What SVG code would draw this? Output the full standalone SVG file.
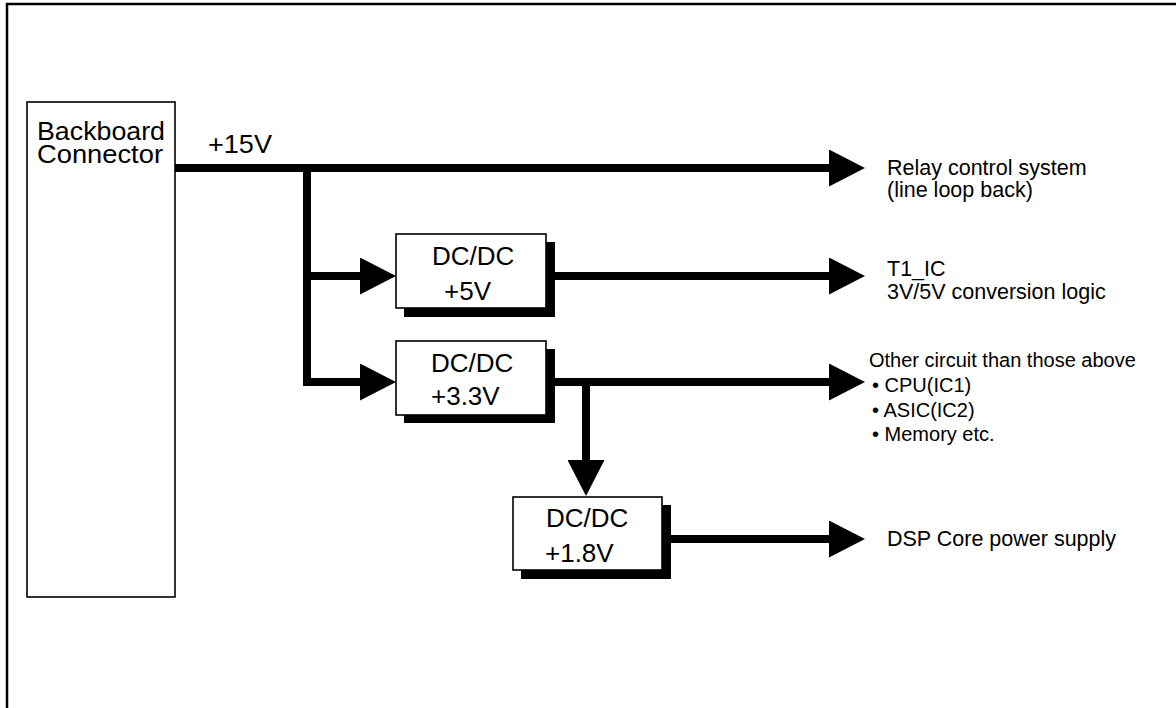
<svg xmlns="http://www.w3.org/2000/svg" width="1176" height="708" viewBox="0 0 1176 708">
<style>
.frame{fill:none;stroke:#000;stroke-width:2.5}
.box{fill:#fff;stroke:#000;stroke-width:1.6}
.shadow{fill:#000}
.wire{fill:none;stroke:#000;stroke-width:8;stroke-linejoin:miter;stroke-linecap:butt}
.lbl{font-family:"Liberation Sans",Arial,sans-serif;fill:#000}
.big{font-size:26px}
.mid{font-size:21.5px}
.sm{font-size:20px}
</style>
<defs>
<marker id="ah" markerUnits="userSpaceOnUse" markerWidth="36" markerHeight="37" refX="0" refY="18.5" orient="auto" viewBox="0 0 36 37">
<path d="M0,0 L36,18.5 L0,37 Z" fill="#000"/>
</marker>
</defs>
<rect width="1176" height="708" fill="#fff"/>
<path class="frame" d="M7,708 V4 H1176"/>

<g id="backboard">
<rect class="box" x="27" y="102" width="148" height="495"/>
<text class="lbl big" x="37" y="140" textLength="128" lengthAdjust="spacingAndGlyphs">Backboard</text>
<text class="lbl big" x="37" y="163" textLength="126" lengthAdjust="spacingAndGlyphs">Connector</text>
</g>

<g id="dcdc5">
<rect class="shadow" x="404" y="242" width="151" height="75"/>
<rect class="box" x="396" y="234" width="150" height="74"/>
<text class="lbl big" x="432" y="265">DC/DC</text>
<text class="lbl big" x="444" y="300">+5V</text>
</g>

<g id="dcdc33">
<rect class="shadow" x="404" y="349" width="151" height="74"/>
<rect class="box" x="396" y="341" width="150" height="74"/>
<text class="lbl big" x="431" y="372">DC/DC</text>
<text class="lbl big" x="431" y="405">+3.3V</text>
</g>

<g id="dcdc18">
<rect class="shadow" x="521" y="505" width="150" height="74"/>
<rect class="box" x="513" y="497" width="149" height="73"/>
<text class="lbl big" x="546" y="527">DC/DC</text>
<text class="lbl big" x="545" y="562">+1.8V</text>
</g>

<g id="connectors">
<polyline class="wire" points="175,168 829,168" marker-end="url(#ah)"/>
<polyline class="wire" points="307,168 307,382 360,382" marker-end="url(#ah)"/>
<polyline class="wire" points="307,276 360,276" marker-end="url(#ah)"/>
<polyline class="wire" points="555,276 829,276" marker-end="url(#ah)"/>
<polyline class="wire" points="555,382 829,382" marker-end="url(#ah)"/>
<polyline class="wire" points="586,382 586,460" marker-end="url(#ah)"/>
<polyline class="wire" points="671,539 829,539" marker-end="url(#ah)"/>
<text class="lbl big" x="208" y="153" textLength="64" lengthAdjust="spacingAndGlyphs">+15V</text>
</g>

<g id="labels">
<text class="lbl mid" x="887" y="175">Relay control system</text>
<text class="lbl mid" x="887" y="197">(line loop back)</text>
<text class="lbl mid" x="887" y="276">T1_IC</text>
<text class="lbl mid" x="887" y="299">3V/5V conversion logic</text>
<text class="lbl sm" x="869" y="367">Other circuit than those above</text>
<text class="lbl sm" x="872" y="392">• CPU(IC1)</text>
<text class="lbl sm" x="872" y="417">• ASIC(IC2)</text>
<text class="lbl sm" x="872" y="441">• Memory etc.</text>
<text class="lbl mid" x="887" y="546">DSP Core power supply</text>
</g>
</svg>
